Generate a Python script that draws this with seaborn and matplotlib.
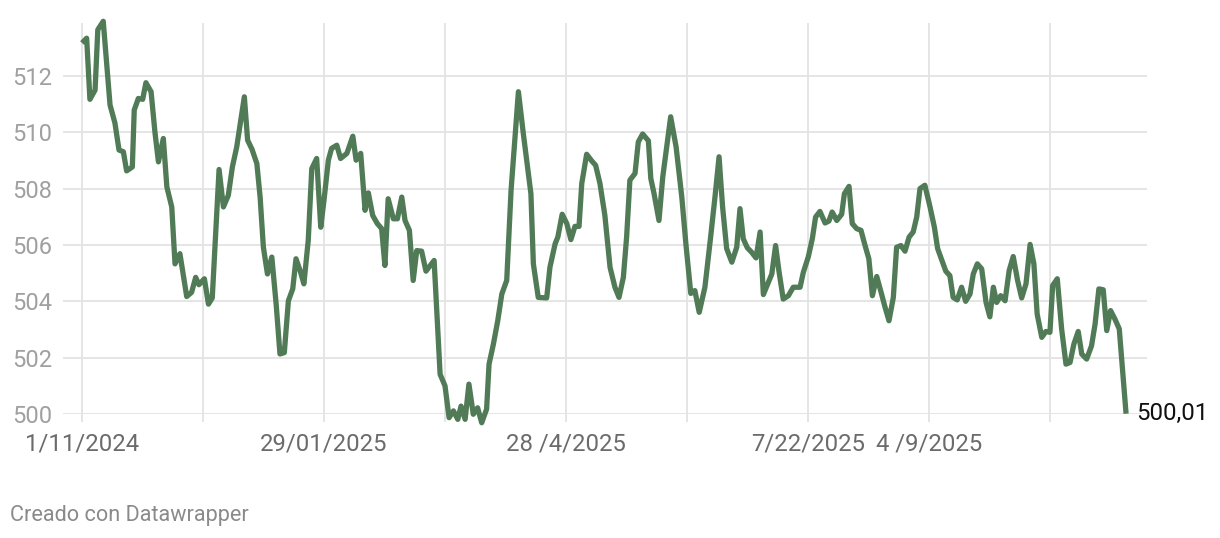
import matplotlib
matplotlib.use("Agg")
import matplotlib.pyplot as plt
import seaborn as sns
import pandas as pd

# ---- data (days since 1/11/2024, value) ----
days = [0, 1.7, 2.9, 4.8, 5.8, 7.8, 10.3, 12.1, 13.6, 15.2, 16.4, 18.5, 19.2, 20.7, 22.3, 23.5, 25.4, 26.8,
        28.1, 29.9, 31.2, 33.0, 34.2, 36.0, 38.5, 40.3, 41.8, 43.0, 45.0, 46.5, 47.9, 50.4, 52.0, 53.8, 55.3,
        56.9, 59.7, 60.9, 62.5, 64.3, 65.5, 66.7, 68.2, 69.8, 71.4, 72.8, 74.4, 75.9, 77.5, 78.7, 80.2, 81.6,
        83.2, 84.5, 86.3, 87.8, 89.0, 90.6, 91.8, 93.7, 95.1, 97.4, 99.6, 100.8, 102.5, 104.1, 105.3, 106.9,
        108.6, 110.2, 111.4, 112.6, 114.5, 116.0, 117.6, 118.8, 120.4, 121.8, 123.1, 124.9, 126.5, 129.5,
        131.7, 133.5, 135.0, 136.6, 138.2, 139.4, 140.9, 142.3, 143.9, 145.5, 147.0, 148.8, 149.7, 151.3,
        152.9, 154.4, 156.2, 157.8, 160.5, 162.3, 165.1, 166.0, 167.8, 170.9, 172.1, 174.0, 175.0, 176.6,
        178.3, 179.8, 181.3, 182.8, 183.8, 185.6, 187.5, 188.9, 190.5, 192.3, 194.2, 196.0, 197.5, 199.1,
        200.3, 201.5, 203.4, 204.6, 206.2, 208.3, 209.2, 210.4, 212.2, 213.6, 216.5, 218.5, 220.6, 222.1,
        223.9, 225.4, 227.0, 229.1, 231.2, 232.8, 234.3, 235.6, 237.1, 239.0, 240.8, 242.0, 243.2, 244.7,
        246.3, 247.9, 249.4, 250.6, 252.2, 253.7, 255.1, 256.3, 257.9, 259.8, 261.6, 264.1, 265.3, 267.1,
        268.6, 269.8, 271.4, 273.3, 274.7, 275.9, 277.6, 279.4, 280.4, 282.1, 283.3, 284.9, 286.5, 288.0,
        289.4, 290.7, 292.3, 293.9, 295.3, 296.8, 298.4, 299.6, 301.2, 302.7, 304.2, 305.7, 307.0, 308.2,
        310.0, 311.9, 313.5, 314.7, 316.2, 317.7, 319.2, 320.4, 321.9, 323.5, 325.0, 326.6, 327.8, 329.3,
        330.9, 332.5, 333.9, 335.2, 336.4, 337.9, 339.5, 341.0, 342.5, 344.1, 345.6, 347.2, 348.7, 350.1,
        351.3, 353.0, 354.5, 356.0, 357.0, 358.7, 360.3, 361.9, 363.4, 364.8, 366.4, 367.7, 369.5, 371.3,
        372.6, 374.0, 375.6, 376.9, 378.3, 379.9, 381.5, 384.0]

values = [513.17, 513.34, 511.17, 511.5, 513.64, 513.94, 510.97, 510.33, 509.37, 509.31, 508.63, 508.77, 510.79,
          511.2, 511.17, 511.76, 511.44, 510.02, 508.95, 509.78, 508.06, 507.35, 505.33, 505.69, 504.17, 504.32,
          504.85, 504.59, 504.8, 503.9, 504.12, 508.68, 507.35, 507.76, 508.77, 509.48, 511.26, 509.72, 509.4,
          508.89, 507.7, 505.92, 504.97, 505.57, 503.9, 502.13, 502.18, 504.02, 504.44, 505.51, 505.09, 504.62,
          506.16, 508.71, 509.07, 506.63, 507.59, 509.01, 509.43, 509.54, 509.07, 509.25, 509.86, 509.01, 509.25,
          507.23, 507.85, 507.05, 506.76, 506.58, 505.27, 507.64, 506.93, 506.93, 507.7, 506.87, 506.52, 504.74,
          505.8, 505.78, 505.07, 505.45, 501.41, 501.0, 499.87, 500.11, 499.81, 500.28, 499.81, 501.06, 499.99,
          500.22, 499.69, 500.17, 501.77, 502.48, 503.31, 504.26, 504.74, 507.94, 511.44, 509.96, 507.82, 505.33,
          504.14, 504.12, 505.21, 506.04, 506.28, 507.09, 506.76, 506.19, 506.66, 506.66, 508.18, 509.22, 508.98,
          508.83, 508.18, 507.05, 505.21, 504.5, 504.14, 504.85, 506.28, 508.3, 508.54, 509.66, 509.94, 509.7,
          508.36, 507.82, 506.87, 508.42, 510.55, 509.48, 507.7, 506.04, 504.28, 504.38, 503.61, 504.5, 506.28,
          507.7, 509.13, 507.35, 505.87, 505.39, 505.92, 507.29, 506.22, 505.9, 505.74, 505.54, 506.46, 504.24,
          504.62, 504.97, 505.98, 505.09, 504.08, 504.2, 504.5, 504.5, 505.03, 505.57, 506.22, 506.99, 507.19,
          506.78, 506.85, 507.17, 506.87, 507.09, 507.82, 508.08, 506.76, 506.58, 506.52, 505.98, 505.51, 504.2,
          504.88, 504.32, 503.81, 503.31, 504.14, 505.92, 505.98, 505.78, 506.28, 506.46, 506.99, 508.0, 508.12,
          507.35, 506.63, 505.87, 505.47, 505.07, 504.91, 504.14, 504.05, 504.5, 504.0, 504.26, 504.97, 505.33,
          505.15, 503.96, 503.45, 504.5, 503.96, 504.2, 504.02, 505.09, 505.59, 504.74, 504.12, 504.62, 506.02,
          505.33, 503.55, 502.72, 502.93, 502.9, 504.56, 504.8, 503.02, 501.77, 501.83, 502.48, 502.93, 502.13,
          501.95, 502.42, 503.19, 504.44, 504.41, 502.96, 503.67, 503.37, 503.02, 500.01]

grid_days = [0, 44.5, 89, 133.5, 178, 222.5, 267, 311.5, 356]
x_labels = ["1/11/2024", "", "29/01/2025", "", "28 /4/2025", "", "7/22/2025", "4 /9/2025", ""]
y_ticks = [500, 502, 504, 506, 508, 510, 512]
last_label = "500,01"

df = pd.DataFrame({"day": days, "value": values})

sns.set_theme(style="white")
plt.rcParams["font.family"] = ["Roboto", "DejaVu Sans"]

W, H = 1220, 538
fig = plt.figure(figsize=(W / 100, H / 100), dpi=100)
ax = fig.add_axes([63 / W, 1 - 414 / H, (1147 - 63) / W, (414 - 22.7) / H])

LINE = "#507b56"
sns.lineplot(data=df, x="day", y="value", ax=ax, color=LINE, linewidth=3.8,
             estimator=None, clip_on=False, solid_joinstyle="round", solid_capstyle="butt")

ax.set_xlim(-7.0, 391.7)
ax.set_ylim(500, 513.89)
ax.set_xlabel("")
ax.set_ylabel("")

for s in ax.spines.values():
    s.set_visible(False)

GRID = "#e3e3e3"
ax.set_xticks(grid_days)
ax.set_xticklabels(x_labels)
ax.set_yticks(y_ticks)
ax.set_yticklabels([str(v) for v in y_ticks])
ax.grid(True, color=GRID, linewidth=1.3)
ax.set_axisbelow(True)

ax.tick_params(axis="x", length=6, width=1.3, color=GRID, direction="out",
               labelsize=17.2, labelcolor="#6b6b6b", pad=7.5, bottom=True)
ax.tick_params(axis="y", length=0, labelsize=17, labelcolor="#a0a0a0", pad=36.7, left=True)
for lab in ax.get_yticklabels():
    lab.set_ha("left")

ax.annotate(last_label, xy=(days[-1], values[-1]), xytext=(7.5, 0), textcoords="offset points",
            ha="left", va="center", fontsize=17.3, color="#111111", annotation_clip=False)

fig.text(10 / W, 1 - 515 / H, "Creado con Datawrapper", ha="left", va="center",
         fontsize=15.6, color="#8a8a8a")

fig.savefig("out.png", dpi=100, facecolor="white")
